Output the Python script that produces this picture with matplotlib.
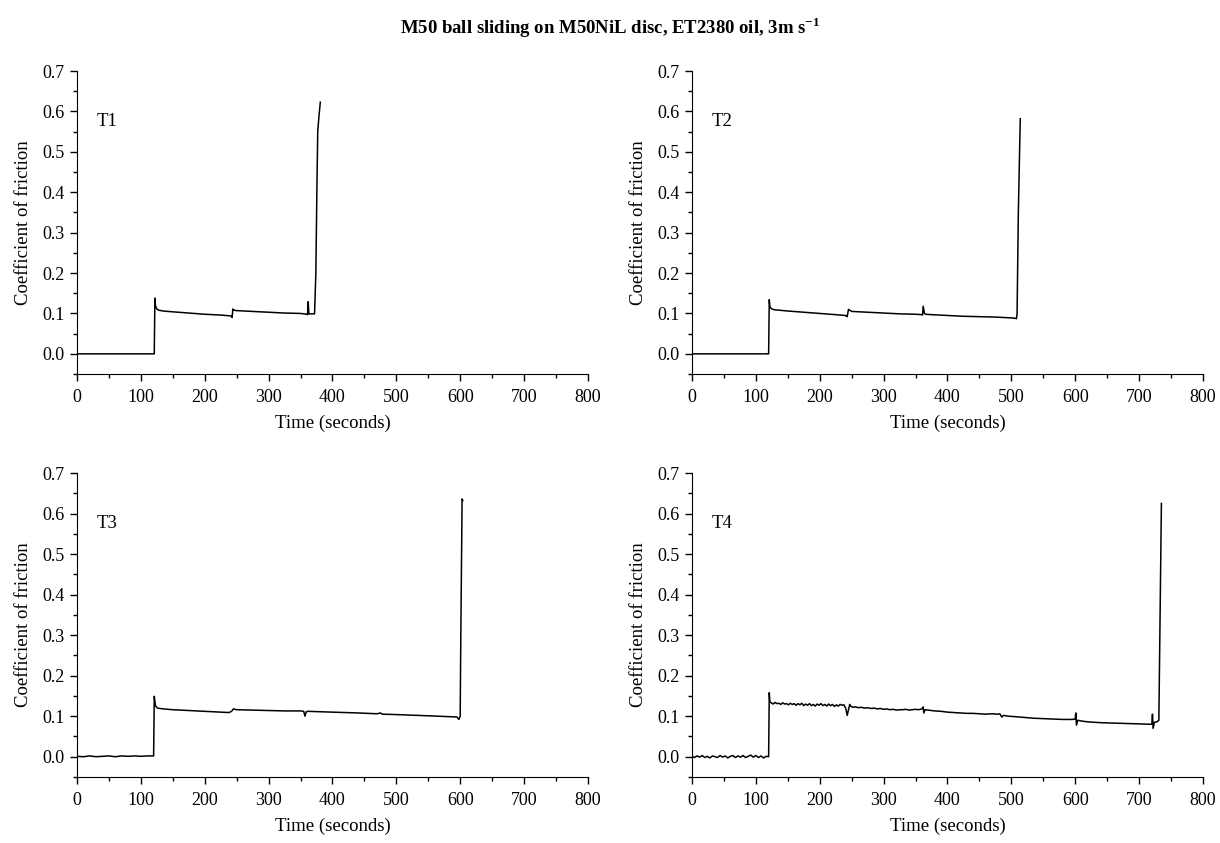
import matplotlib
matplotlib.use("Agg")
import matplotlib.pyplot as plt
from matplotlib.ticker import MultipleLocator, FormatStrFormatter

plt.rcParams["font.family"] = ["Liberation Serif", "DejaVu Serif"]
plt.rcParams["mathtext.fontset"] = "custom"
plt.rcParams["mathtext.rm"] = "Liberation Serif"
plt.rcParams["mathtext.bf"] = "Liberation Serif:bold"

# T1
t1_time = [0, 20, 40, 60, 80, 100, 121, 122, 123, 125, 128, 135, 150, 175, 200, 225,
           240, 242, 243, 244, 246, 250, 275, 300, 325, 350, 360, 361, 362, 363, 365,
           372, 374, 376, 377, 379, 381]
t1_cof = [0.0, 0.0, 0.0, 0.0, 0.0, 0.0, 0.0, 0.138, 0.118, 0.111, 0.108, 0.106, 0.104,
          0.101, 0.098, 0.096, 0.094, 0.093, 0.090, 0.111, 0.108, 0.107, 0.105, 0.103,
          0.101, 0.100, 0.098, 0.097, 0.129, 0.099, 0.099, 0.099, 0.20, 0.45, 0.552,
          0.59, 0.623]

# T2
t2_time = [0, 50, 100, 120, 121, 122, 124, 127, 130, 150, 175, 200, 225, 240, 242,
           243, 245, 250, 275, 300, 325, 350, 360, 361, 362, 364, 366, 375, 400, 425,
           450, 475, 500, 506, 508, 509, 511, 514]
t2_cof = [0.0, 0.0, 0.0, 0.0, 0.134, 0.117, 0.112, 0.110, 0.109, 0.106, 0.103, 0.100,
          0.097, 0.095, 0.093, 0.092, 0.110, 0.105, 0.103, 0.101, 0.099, 0.098, 0.097,
          0.096, 0.118, 0.100, 0.098, 0.097, 0.095, 0.093, 0.092, 0.091, 0.089, 0.088,
          0.087, 0.098, 0.35, 0.582]

# T3
t3_time = [0, 10, 20, 30, 40, 50, 60, 70, 80, 90, 100, 110, 120, 121, 123, 126, 135,
           150, 175, 200, 225, 238, 242, 245, 250, 275, 300, 325, 350, 355, 357, 359,
           362, 400, 440, 470, 475, 478, 500, 550, 580, 595, 598, 600, 601, 603, 604]
t3_cof = [0.001, 0.0, 0.002, 0.0, 0.001, 0.002, 0.0, 0.002, 0.001, 0.002, 0.001, 0.002,
          0.002, 0.149, 0.125, 0.120, 0.118, 0.116, 0.114, 0.112, 0.110, 0.109, 0.112,
          0.118, 0.116, 0.115, 0.114, 0.113, 0.113, 0.112, 0.100, 0.111, 0.112, 0.110,
          0.108, 0.106, 0.108, 0.105, 0.104, 0.101, 0.099, 0.098, 0.092, 0.100, 0.30,
          0.636, 0.632]

# T4
t4_time = [0, 4, 8, 12, 16, 20, 24, 28, 32, 36, 40, 44, 48, 52, 56, 60, 64, 68, 72, 76,
           80, 84, 88, 92, 96, 100, 104, 108, 112, 116, 120,
           121, 122, 124, 127, 130, 133, 136, 139, 142, 145, 148, 151, 154, 157, 160,
           163, 166, 169, 172, 175, 178, 181, 184, 187, 190, 193, 196, 199, 202, 205,
           208, 211, 214, 217, 220, 223, 226, 229, 232, 235, 238, 241, 243, 245, 247,
           249, 252, 256, 260, 265, 270, 275, 280, 285, 290, 295, 300, 305, 310, 315,
           320, 325, 330, 335, 340, 345, 350, 355, 360, 362, 363, 365, 370, 380, 390,
           400, 410, 420, 430, 440, 450, 460, 470, 478, 482, 485, 488, 495, 505, 520,
           535, 550, 565, 580, 595, 600, 601, 602, 604, 610, 620, 640, 660, 680, 700,
           715, 720, 721, 722, 724, 728, 731, 733, 735]
t4_cof = [0.001, -0.002, 0.002, -0.001, 0.003, -0.002, 0.001, -0.003, 0.002, 0.000,
          -0.002, 0.003, -0.001, 0.002, -0.003, 0.001, 0.003, -0.002, 0.002, -0.001,
          0.003, -0.002, 0.001, 0.004, -0.001, 0.003, -0.002, 0.002, -0.003, 0.001,
          0.000,
          0.158, 0.135, 0.133, 0.130, 0.134, 0.131, 0.132, 0.129, 0.133, 0.130, 0.131,
          0.128, 0.132, 0.129, 0.131, 0.127, 0.131, 0.128, 0.132, 0.126, 0.130, 0.127,
          0.131, 0.126, 0.129, 0.125, 0.130, 0.127, 0.131, 0.126, 0.129, 0.125, 0.130,
          0.126, 0.129, 0.124, 0.128, 0.125, 0.129, 0.127, 0.128, 0.118, 0.102, 0.115,
          0.129, 0.124, 0.122, 0.123, 0.121, 0.122, 0.120, 0.121, 0.119, 0.120, 0.118,
          0.119, 0.117, 0.118, 0.116, 0.117, 0.115, 0.116, 0.116, 0.117, 0.115, 0.116,
          0.117, 0.116, 0.118, 0.123, 0.108, 0.116, 0.115, 0.113, 0.112, 0.110, 0.109,
          0.108, 0.107, 0.107, 0.106, 0.105, 0.106, 0.105, 0.106, 0.098, 0.102, 0.100,
          0.099, 0.097, 0.095, 0.094, 0.093, 0.092, 0.092, 0.093, 0.108, 0.078, 0.090,
          0.088, 0.086, 0.084, 0.083, 0.082, 0.081, 0.080, 0.080, 0.105, 0.070, 0.085,
          0.086, 0.090, 0.35, 0.625]

series = [("T1", t1_time, t1_cof), ("T2", t2_time, t2_cof),
          ("T3", t3_time, t3_cof), ("T4", t4_time, t4_cof)]

fig = plt.figure(figsize=(12.2, 8.43), dpi=100)
positions = [
    [0.0631, 0.5563, 0.4188, 0.3594],
    [0.5672, 0.5563, 0.4188, 0.3594],
    [0.0631, 0.0783, 0.4188, 0.3606],
    [0.5672, 0.0783, 0.4188, 0.3606],
]

for pos, (name, t, cof) in zip(positions, series):
    ax = fig.add_axes(pos)
    ax.plot(t, cof, color="black", linewidth=1.1)
    ax.set_xlim(0, 800)
    ax.set_ylim(-0.05, 0.7)
    ax.spines["top"].set_visible(False)
    ax.spines["right"].set_visible(False)
    ax.xaxis.set_major_locator(MultipleLocator(100))
    ax.xaxis.set_minor_locator(MultipleLocator(50))
    ax.yaxis.set_minor_locator(MultipleLocator(0.05))
    ax.yaxis.set_major_formatter(FormatStrFormatter("%.1f"))
    ax.set_yticks([0.0, 0.1, 0.2, 0.3, 0.4, 0.5, 0.6, 0.7])
    ax.tick_params(which="major", direction="out", length=5, width=1.0,
                   labelsize=13)
    ax.tick_params(axis="x", which="major", pad=6)
    ax.tick_params(axis="y", which="major", pad=4)
    ax.tick_params(which="minor", direction="out", length=3, width=1.0)
    ax.set_xlabel("Time (seconds)", fontsize=13.5, labelpad=6)
    ax.set_ylabel("Coefficient of friction", fontsize=13.5, labelpad=7)
    ax.text(30, 0.575, name, fontsize=13.5, ha="left", va="center")

fig.suptitle("M50 ball sliding on M50NiL disc, ET2380 oil, 3m s$^{\\mathbf{-1}}$",
             fontsize=13.5, fontweight="bold", y=0.982)

fig.savefig("out.png", dpi=100)
